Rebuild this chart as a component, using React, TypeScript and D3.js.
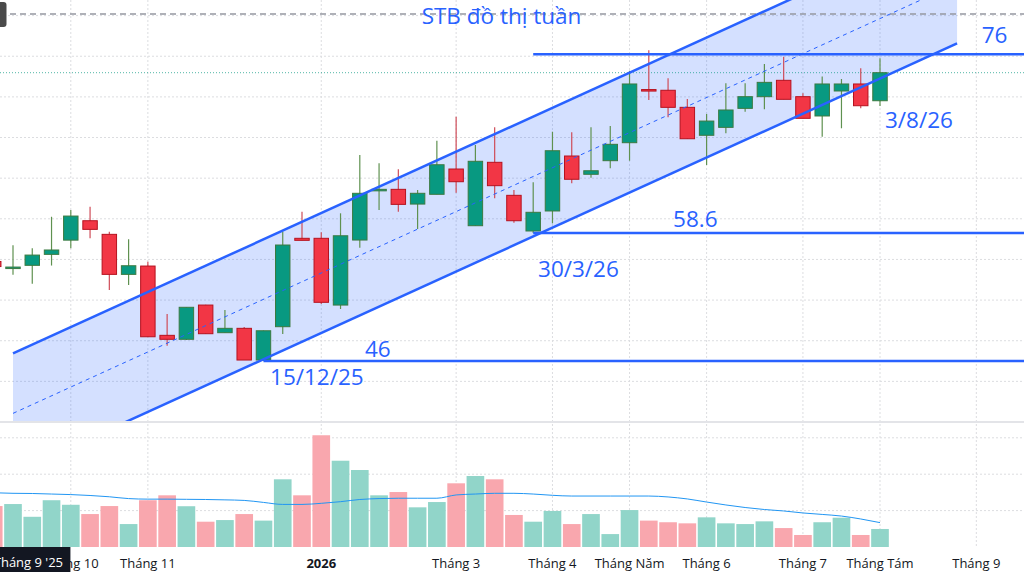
import React from "react";
import * as d3 from "d3";

// ---------- data ----------
const dates = [
  "2025-09-08", "2025-09-15", "2025-09-22", "2025-09-29", "2025-10-06", "2025-10-13", "2025-10-20", "2025-10-27",
  "2025-11-03", "2025-11-10", "2025-11-17", "2025-11-24", "2025-12-01", "2025-12-08", "2025-12-15", "2025-12-22",
  "2025-12-29", "2026-01-05", "2026-01-12", "2026-01-19", "2026-01-26", "2026-02-02", "2026-02-09", "2026-02-23",
  "2026-03-02", "2026-03-09", "2026-03-16", "2026-03-23", "2026-03-30", "2026-04-06", "2026-04-13", "2026-04-20",
  "2026-04-27", "2026-05-04", "2026-05-11", "2026-05-18", "2026-05-25", "2026-06-01", "2026-06-08", "2026-06-15",
  "2026-06-22", "2026-06-29", "2026-07-06", "2026-07-13", "2026-07-20", "2026-07-27", "2026-08-03",
];
const opens = [
  55.8, 55.2, 55.42, 56.5, 57.9, 59.81, 58.47, 54.53, 55.35, 48.53, 48.14, 51.51, 48.79, 49.22, 46.1, 49.38,
  58.08, 58.08, 51.51, 57.91, 62.88, 62.9, 61.45, 62.41, 64.9, 59.32, 65.56, 62.31, 58.8, 60.77, 66.18, 64.38,
  65.72, 67.49, 72.72, 72.65, 70.97, 68.22, 69.0, 70.87, 72.02, 73.63, 72.02, 70.12, 72.58, 73.27, 71.62,
];
const highs = [
  55.9, 57.4, 57.1, 60.2, 60.86, 61.19, 58.73, 57.98, 55.78, 50.63, 51.3, 51.55, 51.02, 49.35, 49.0, 58.73,
  60.7, 58.67, 60.54, 66.28, 65.46, 64.87, 62.83, 67.68, 70.05, 67.26, 69.0, 62.83, 63.59, 68.57, 68.51, 69.0,
  69.13, 74.57, 76.58, 73.83, 71.79, 70.31, 73.33, 73.33, 75.23, 75.95, 72.35, 74.0, 73.76, 74.81, 75.8,
];
const lows = [
  55.2, 54.5, 53.6, 55.4, 57.1, 58.08, 52.99, 53.48, 48.36, 47.51, 48.07, 48.66, 48.79, 46.1, 46.0, 48.66,
  57.88, 51.61, 51.12, 57.15, 60.86, 60.7, 58.99, 62.41, 62.57, 59.32, 62.02, 59.61, 58.6, 59.55, 63.49, 64.04,
  64.97, 65.72, 71.69, 69.99, 67.85, 65.29, 68.41, 70.54, 70.78, 71.76, 69.89, 68.08, 68.91, 70.87, 71.1,
];
const closes = [
  55.3, 55.25, 56.43, 56.93, 60.27, 58.96, 54.53, 55.38, 48.39, 48.14, 51.29, 48.69, 49.22, 46.1, 48.98, 57.42,
  57.88, 51.78, 58.33, 62.51, 62.9, 61.42, 62.51, 65.32, 63.65, 65.66, 63.26, 59.81, 60.64, 66.7, 63.89, 64.73,
  67.33, 73.27, 72.67, 70.97, 67.88, 69.62, 70.71, 72.02, 73.43, 71.76, 69.89, 73.27, 73.27, 71.13, 74.38,
];
const volumes = [
  22.5, 23.6, 16.6, 25.7, 23.2, 18.1, 22.5, 12.6, 25.7, 28.4, 22.4, 13.9, 14.8, 18.1, 14.5, 37.2,
  28.4, 61.4, 47.4, 42.3, 28.4, 30.2, 21.8, 24.7, 35.0, 39.0, 37.2, 17.6, 13.9, 19.8, 12.6, 18.1,
  7.1, 20.3, 14.5, 13.6, 13.0, 16.3, 13.0, 12.6, 14.1, 10.4, 6.6, 13.6, 16.1, 6.6, 9.9,
];
const volumeMA = [
  29.8, 29.5, 29.4, 29.1, 28.8, 28.3, 27.6, 26.6, 26.3, 26.3, 26.2, 26.1, 25.9, 25.6, 24.5, 23.4,
  23.4, 24.0, 24.9, 26.1, 26.6, 26.8, 26.8, 26.8, 28.6, 29.1, 29.5, 29.5, 29.1, 28.4, 28.0, 28.0,
  28.0, 28.0, 28.0, 27.5, 26.4, 24.7, 23.1, 21.7, 20.6, 19.8, 18.7, 17.9, 17.0, 15.4, 13.4,
];

const tickLabels = ["Tháng 10", "Tháng 11", "2026", "Tháng 3", "Tháng 4", "Tháng Năm", "Tháng 6", "Tháng 7", "Tháng Tám", "Tháng 9"];
const tickDates = ["2025-10-06", "2025-11-03", "2026-01-05", "2026-03-02", "2026-04-06", "2026-05-04", "2026-06-01", "2026-07-06", "2026-08-03", "2026-09-07"];
const priceTicks = [40, 44, 48, 52, 56, 60, 64, 68, 72, 76, 80];
const volumeTicks = [20, 40, 60];

const levelPrices = [76.2, 58.6, 46];
const levelStartDates = ["2026-03-30", "2026-03-30", "2025-12-15"];

// channel: lower line anchors (date index, price) and width in price units
const channelStartIdx = 1;
const channelEndIdx = 50;
const channelLowerStart = 34.95;
const channelLowerEnd = 77.26;
const channelWidth = 11.8;

const annotationTexts = ["STB đồ thị tuần", "76", "3/8/26", "58.6", "30/3/26", "46", "15/12/25"];
const annotationIdx = [22.21, 51.28, 46.26, 35.26, 28.25, 19.27, 14.34];
const annotationPrice = [79.17, 77.27, 68.96, 59.19, 54.27, 46.42, 43.64];

const alertPrice = 80.15;
const crosshairLabel = "Tháng 9 '25";
const crosshairIdx = 1.8;

// ---------- helpers ----------
const W = 1024;
const H = 579;
const DAY = 86400000;
function idxOf(date: string): number {
  const i = dates.indexOf(date);
  if (i >= 0) return i;
  const last = new Date(dates[dates.length - 1]).getTime();
  return dates.length - 1 + Math.round((new Date(date).getTime() - last) / (7 * DAY));
}

const BLUE = "#2962ff";
const UP = "#089981";
const DOWN = "#f23645";

export default function App() {
  const x = d3.scaleLinear().domain([1, 46]).range([13, 880]);
  const step = x(2) - x(1);
  const y = d3.scaleLinear().domain([40, 80]).range([422, 15.6]);
  const vy = d3.scaleLinear().domain([0, 60]).range([547, 437.8]);

  const bars = dates.map((d, i) => ({
    i,
    o: opens[i],
    h: highs[i],
    l: lows[i],
    c: closes[i],
    v: volumes[i],
    up: closes[i] >= opens[i],
  }));

  const maLine = d3
    .line<number>()
    .x((_, i) => x(i))
    .y((d) => vy(d))
    .curve(d3.curveMonotoneX)(volumeMA) as string;

  const lowerAt = (i: number) =>
    channelLowerStart + ((channelLowerEnd - channelLowerStart) * (i - channelStartIdx)) / (channelEndIdx - channelStartIdx);
  const x0 = x(channelStartIdx);
  const x1 = x(channelEndIdx);
  const lo0 = y(lowerAt(channelStartIdx));
  const lo1 = y(lowerAt(channelEndIdx));
  const up0 = y(lowerAt(channelStartIdx) + channelWidth);
  const up1 = y(lowerAt(channelEndIdx) + channelWidth);
  const mid0 = y(lowerAt(channelStartIdx) + channelWidth / 2);
  const mid1 = y(lowerAt(channelEndIdx) + channelWidth / 2);

  const bodyW = step * 0.75;
  const volW = step - 1.6;
  const font = "'Open Sans', 'DejaVu Sans', sans-serif";

  return (
    <div style={{ position: "fixed", left: 0, top: 0, width: W, height: H, background: "#fff" }}>
      <svg width={W} height={H} style={{ display: "block" }} fontFamily={font}>
        <defs>
          <clipPath id="pricePane">
            <rect x={0} y={0} width={W} height={421} />
          </clipPath>
        </defs>
        <rect x={0} y={0} width={W} height={H} fill="#ffffff" />

        {/* grid */}
        {priceTicks.map((p) => (
          <line key={"pg" + p} x1={0} x2={W} y1={y(p)} y2={y(p)} stroke="#dcdde0" strokeWidth={1} strokeDasharray="2 2" />
        ))}
        {volumeTicks.map((v) => (
          <line key={"vg" + v} x1={0} x2={W} y1={vy(v)} y2={vy(v)} stroke="#dcdde0" strokeWidth={1} strokeDasharray="2 2" />
        ))}
        {tickDates.map((d) => (
          <line key={"xg" + d} x1={x(idxOf(d))} x2={x(idxOf(d))} y1={0} y2={548} stroke="#dcdde0" strokeWidth={1} strokeDasharray="2 2" />
        ))}

        <g clipPath="url(#pricePane)">
          {/* channel fill */}
          <polygon
            points={`${x0},${up0} ${x1},${up1} ${x1},${lo1} ${x0},${lo0}`}
            fill="rgba(41,98,255,0.2)"
          />
          {/* alert / dashed line */}
          <line x1={0} x2={W} y1={y(alertPrice)} y2={y(alertPrice)} stroke="#9598a1" strokeWidth={1.5} strokeDasharray="6 4" />
          {/* current price line */}
          <line
            x1={0}
            x2={W}
            y1={y(closes[closes.length - 1])}
            y2={y(closes[closes.length - 1])}
            stroke={UP}
            strokeOpacity={0.7}
            strokeWidth={1}
            strokeDasharray="1 2"
          />

          {/* candles */}
          {bars.map((b) => {
            const cx = x(b.i);
            const top = y(Math.max(b.o, b.c));
            const bot = y(Math.min(b.o, b.c));
            const wick = b.up ? "#5f9150" : "#cf4c58";
            return (
              <g key={"c" + b.i}>
                <line x1={cx} x2={cx} y1={y(b.h)} y2={y(b.l)} stroke={wick} strokeWidth={1.2} />
                <rect
                  x={cx - bodyW / 2}
                  y={top}
                  width={bodyW}
                  height={Math.max(1.5, bot - top)}
                  fill={b.up ? UP : DOWN}
                  stroke={b.up ? "#3b7a40" : "#b5121f"}
                  strokeWidth={1}
                />
              </g>
            );
          })}

          {/* channel lines */}
          <line x1={x0} y1={up0} x2={x1} y2={up1} stroke={BLUE} strokeWidth={2.5} />
          <line x1={x0} y1={lo0} x2={x1} y2={lo1} stroke={BLUE} strokeWidth={2.5} />
          <line x1={x0} y1={mid0} x2={x1} y2={mid1} stroke={BLUE} strokeWidth={1} strokeDasharray="4 4" />

          {/* horizontal levels */}
          {levelPrices.map((p, k) => (
            <line key={"lv" + k} x1={x(idxOf(levelStartDates[k]))} x2={W} y1={y(p)} y2={y(p)} stroke={BLUE} strokeWidth={2.5} />
          ))}

          {/* price label bubble at left */}
          <rect x={-8} y={y(alertPrice) - 12} width={14.5} height={25} rx={3} fill="#4a4a4a" />
        </g>

        {/* annotation texts */}
        {annotationTexts.map((t, k) => (
          <text key={"at" + k} x={x(annotationIdx[k])} y={y(annotationPrice[k])} fill={BLUE} fontSize={22.5}>
            {t}
          </text>
        ))}

        {/* pane separator */}
        <rect x={0} y={421} width={W} height={2} fill="#e3e4e8" />

        {/* volume */}
        {bars.map((b) => (
          <rect
            key={"v" + b.i}
            x={x(b.i) - volW / 2}
            y={vy(b.v)}
            width={volW}
            height={vy(0) - vy(b.v)}
            fill={b.up ? "#91d5c9" : "#f9a7ae"}
          />
        ))}
        <path d={maLine} fill="none" stroke="#2196f3" strokeWidth={1} />

        {/* time axis */}
        {tickLabels.map((t, k) => (
          <text
            key={"tl" + k}
            x={x(idxOf(tickDates[k]))}
            y={568}
            textAnchor="middle"
            fontSize={13}
            fill="#131722"
            fontWeight={t === "2026" ? 700 : 400}
          >
            {t}
          </text>
        ))}
        <rect x={x(crosshairIdx) - 42} y={547} width={84} height={25} fill="#131722" />
        <text x={x(crosshairIdx)} y={567} textAnchor="middle" fontSize={13} fill="#ffffff">
          {crosshairLabel}
        </text>
      </svg>
    </div>
  );
}
